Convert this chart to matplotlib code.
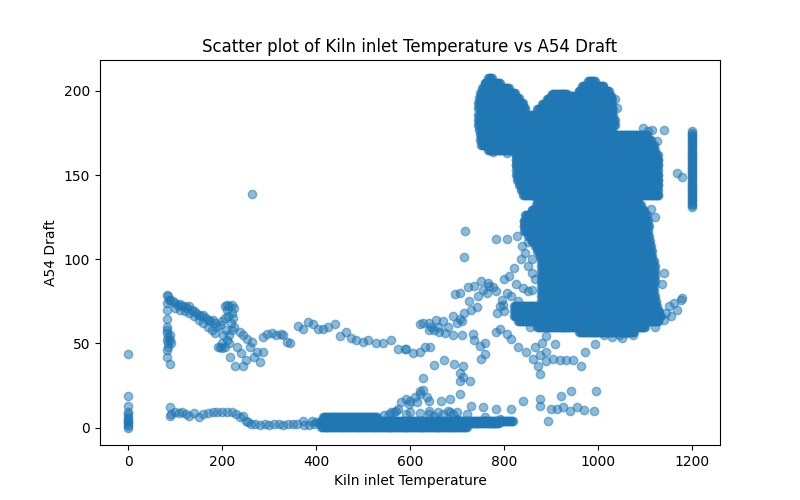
import numpy as np
import matplotlib.pyplot as plt

# sparse points
pts_x = [
    # x = 0 column outliers
    0, 0, 0, 0, 0,
    # left upper group
    82, 84, 86, 83, 82, 82, 82, 82, 83, 84, 82, 85, 84, 83, 82, 89, 90, 92, 88,
    90, 95, 100, 105, 110, 115, 120, 125, 130, 135, 140, 145, 150, 155, 160, 165, 170, 175, 180, 185, 190, 195,
    200, 205, 210, 215, 220, 225, 220, 205, 210,
    200, 205, 210, 215, 220, 225, 218, 212, 222, 215, 208, 202, 200, 195,
    130, 140, 150, 160, 170, 178, 185, 110, 120, 100,
    238, 245, 252, 263, 273, 280, 245, 227, 217, 192, 287, 287, 295, 305, 315, 325, 330, 337, 345,
    232, 240, 250, 268, 260,
    362, 372, 383, 393, 404, 414, 425, 440, 450, 464, 475, 485, 499, 510, 528, 542, 560, 574, 592, 606,
    620, 588, 641, 632, 620,
    263,
    # left lower chain
    89, 89, 92, 100, 108, 115, 122, 130, 140, 150, 160, 170, 180, 190, 200, 210, 220, 230, 238, 245,
    250, 255, 262, 270, 280, 290, 300, 310, 320, 330, 340, 350, 360, 372, 390, 375, 385, 395, 400,
    # lower middle
    580, 590, 600, 610, 620, 628, 635, 640, 597, 615, 627, 620,
    560, 570, 590, 640, 650, 660, 670, 680, 690, 700, 640, 666, 684, 705, 705, 705, 728, 730, 755, 783,
    815, 840, 875, 875, 900, 912, 925, 940, 955, 970, 990, 921, 943, 996, 893, 760, 790, 700, 650, 672,
    693, 713, 713, 565, 575, 600, 620, 685, 720, 545, 555,
    # middle sparse
    716, 783, 714, 695, 705, 722, 736, 751, 765, 776, 783, 763, 726, 743, 705, 627, 640, 650, 662, 675,
    690, 710, 733, 736, 748, 758, 750, 760, 783, 784, 790, 797, 800, 790, 805, 815, 829, 847, 861, 872,
    875, 889, 903, 918, 932, 946, 964, 971, 877, 889, 865, 880, 907, 889, 992, 1013, 1030, 1050, 1073, 826,
    840, 850, 860, 850, 858, 828, 837, 847, 855, 840, 830, 815, 805, 700, 710, 680, 660, 645,
    1150, 1162, 1175, 1168, 1155, 1145, 1179, 1100, 1120, 1140, 1045, 1055,
    640, 655, 670, 690, 715, 730, 745, 755, 768, 795, 800, 810, 820, 835, 845, 850,
    # upper blob outliers
    1168, 1179, 1140, 1125, 1115, 1105, 1095, 1040, 1035, 806, 775, 790, 805, 770,
    860, 865, 850, 1135, 1140, 1112, 1120, 1045, 1060, 1075,
]
pts_y = [
    8, 9.5, 13, 19, 43.5,
    79, 78, 76, 74, 70, 64.5, 60, 58, 56, 54, 52, 50, 48, 46, 42, 38, 55, 50, 52,
    76, 75, 74, 73, 73.5, 72, 72, 71, 72, 70, 69, 68, 67, 66, 67, 65, 64, 63, 64, 62, 60, 61,
    63, 65, 70, 72, 73, 71, 68, 72, 73,
    50, 48, 52, 55, 58, 60, 62, 66, 65, 50, 58, 55, 47.5, 48,
    68, 66, 64, 62, 60, 58, 56, 70, 69, 71,
    57, 55, 52.5, 51, 45, 39, 36.5, 36.5, 42, 48, 54, 45, 55.5, 56, 55, 55.5, 55, 51, 50,
    48, 44, 40, 42, 48,
    60.5, 58.5, 62.5, 61.5, 58.5, 58.5, 59.7, 61.5, 54.5, 57, 53, 52, 51, 52, 50, 50, 52, 46.5, 46.5, 44,
    45, 46.6, 47.8, 48, 61.5,
    139,
    12, 7, 8, 9, 8.5, 9, 8, 7, 8.5, 6, 8, 8.5, 9, 9, 9.5, 9, 9, 8, 6, 7,
    4, 3, 1.8, 1.8, 1.5, 1.8, 1.5, 1.8, 1.8, 1.5, 1.8, 1.8, 2, 3.6, 3.6, 1.5, 1.5, 2, 3,
    15, 17, 16, 18, 20, 22, 18, 16, 14, 15, 29.6, 21.5,
    9, 10, 8, 8, 7, 9, 8, 10, 8, 9, 10, 16, 17, 19.7, 27.6, 32.6, 27.4, 12.5, 12, 11,
    11, 15.5, 16.7, 12.7, 10.7, 11, 12, 10, 12, 10.5, 10, 18.5, 21.5, 21.5, 3.6, 6, 5, 5, 37, 40,
    38, 36.4, 30, 9, 11, 9.5, 8.5, 9.5, 8, 7.5, 8,
    116.5, 111.8, 101.5, 79.4, 80, 83.6, 84, 87, 86, 83.6, 81, 80, 75, 71.6, 64.5, 62, 58, 58, 57, 56,
    55, 55, 55.5, 52, 48.4, 43.6, 41, 50, 56.7, 68, 72, 73, 69, 58.5, 55.5, 52.5, 47.8, 44.8, 40.6, 36.4,
    31.6, 39.4, 40.6, 40, 40, 40, 36.4, 44.8, 43, 45, 48, 50, 49.5, 54.3, 49.5, 55, 54, 53, 55, 85,
    83, 81, 82, 96, 92, 114, 108, 64, 60, 70, 75, 78, 80, 62, 63, 60, 60, 60,
    72, 74, 76, 70, 66, 68, 77, 62, 60, 64, 60, 58,
    62, 64, 63, 66, 68, 70, 78, 82, 84, 76, 88, 90, 95, 100, 104, 110,
    151, 149, 177, 170, 177, 176, 178, 190, 195, 112, 164, 165, 163, 166,
    100, 88, 120, 85, 92, 130, 125, 55, 56, 57,
]

# dense areas: rows of (y, x from, x to)
row_y = [
    208, 206, 205, 203, 202, 200, 199, 198, 197, 196, 195, 193, 192, 190, 189, 186, 183, 180, 177,
    174, 171, 168, 165, 162, 159, 156, 153, 150, 147, 144, 141, 138,
    135, 132, 129, 126, 123, 120, 117, 114, 111, 108, 105, 102, 99, 96, 93, 90, 87, 84, 81, 78, 75,
    72, 72, 69, 66, 63, 60, 57,
    6.5, 4.0, 2.5, 0.5,
]
row_x0 = [
    766, 978, 758, 965, 752, 958, 748, 902, 900, 746, 890, 745, 880, 745, 870, 745, 745, 745, 746,
    748, 748, 750, 765, 824, 824, 824, 825, 826, 828, 832, 835, 840,
    870, 868, 858, 845, 841, 841, 842, 850, 858, 866, 870, 875, 878, 878, 878, 878, 878, 878, 878, 878, 878,
    878, 820, 820, 820, 830, 870, 960,
    415, 410, 405, 410,
]
row_x1 = [
    774, 992, 790, 1012, 810, 1022, 822, 935, 1028, 832, 1030, 840, 1030, 845, 1032, 1032, 1035, 1035, 1030,
    1105, 1112, 1118, 1122, 1126, 1128, 1128, 1128, 1128, 1128, 1128, 1128, 1128,
    1085, 1090, 1098, 1104, 1106, 1107, 1107, 1108, 1110, 1112, 1114, 1116, 1118, 1120, 1120, 1120, 1120, 1118, 1118, 1120, 1122,
    1125, 870, 1130, 1134, 1128, 1100, 1075,
    530, 818, 790, 720,
]

# dense vertical columns: (x, y from, y to)
col_x = [0, 1199]
col_y0 = [0, 131]
col_y1 = [6.5, 176]

xs = list(pts_x)
ys = list(pts_y)
for yv, a, b in zip(row_y, row_x0, row_x1):
    for xv in np.arange(a, b + 0.1, 2):
        xs.append(xv)
        ys.append(yv)
for xv, a, b in zip(col_x, col_y0, col_y1):
    for yv in np.arange(a, b + 0.1, 1):
        xs.append(xv)
        ys.append(yv)

fig, ax = plt.subplots(figsize=(8, 5), dpi=100)
ax.scatter(xs, ys, alpha=0.5)
ax.set_title("Scatter plot of Kiln inlet Temperature vs A54 Draft")
ax.set_xlabel("Kiln inlet Temperature")
ax.set_ylabel("A54 Draft")

plt.savefig("out.png")
